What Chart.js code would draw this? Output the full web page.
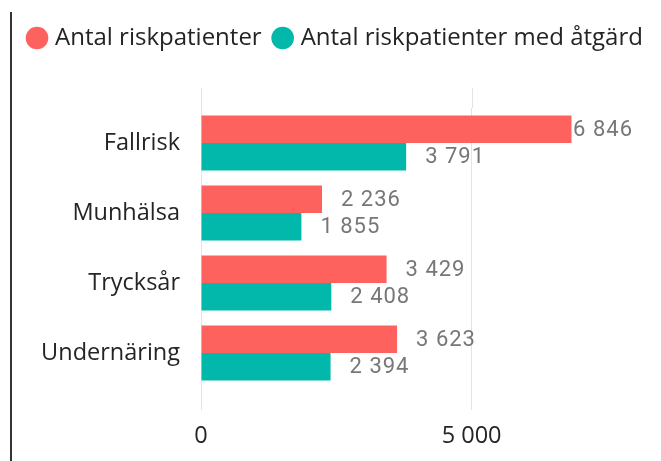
<!DOCTYPE html>
<html><head><meta charset="utf-8">
<script src="https://cdn.jsdelivr.net/npm/chart.js@4"></script>
<style>
html,body{margin:0;padding:0;background:#fff;}
#wrap{position:relative;width:661px;height:461px;overflow:hidden;}
#frame{position:absolute;left:10px;top:12px;width:2px;height:449px;background:#333333;}
canvas{position:absolute;left:0;top:0;}
</style></head><body>
<div id="wrap"><canvas id="c" width="661" height="461"></canvas><div id="frame"></div></div>
<script>
const categories = ['Fallrisk', 'Munhälsa', 'Trycksår', 'Undernäring'];
const seriesNames = ['Antal riskpatienter', 'Antal riskpatienter med åtgärd'];
const riskPatients = [6846, 2236, 3429, 3623];
const withAction = [3791, 1855, 2408, 2394];
const xTickValues = [0, 5000];
const axisMax = 8500;

const TEXT = '#252423';
const GRID = '#e4e4e4';
const LABEL_RIGHT_INSET = 28;
const fmt = v => String(v).replace(/\B(?=(\d{3})+(?!\d))/g, ' ');
const legendFont = {family: "'Open Sans', sans-serif", size: 24};
const axisFont = {family: "'Open Sans', sans-serif", size: 23.5};

const gridTop = {
  id: 'gridTop',
  beforeDatasetsDraw(chart) {
    const {ctx, chartArea, scales: {x}} = chart;
    ctx.save();
    ctx.strokeStyle = GRID;
    ctx.lineWidth = 1;
    x.ticks.forEach(t => {
      const px = Math.round(x.getPixelForValue(t.value)) + 0.5;
      ctx.beginPath();
      ctx.moveTo(px, chartArea.top - 20);
      ctx.lineTo(px, chartArea.top);
      ctx.stroke();
    });
    ctx.restore();
  }
};

const valueLabels = {
  id: 'valueLabels',
  afterDatasetsDraw(chart) {
    const {ctx, chartArea} = chart;
    ctx.save();
    ctx.font = "22px Roboto, sans-serif";
    try { ctx.letterSpacing = '1px'; } catch (e) {}
    ctx.fillStyle = '#777777';
    ctx.textBaseline = 'middle';
    ctx.textAlign = 'left';
    const limit = chartArea.right - LABEL_RIGHT_INSET;
    chart.data.datasets.forEach((ds, i) => {
      chart.getDatasetMeta(i).data.forEach((bar, j) => {
        const txt = fmt(ds.data[j]);
        const w = ctx.measureText(txt).width;
        const x = Math.min(bar.x + 19, limit - w);
        ctx.fillText(txt, x, bar.y + 1);
      });
    });
    ctx.restore();
  }
};

new Chart(document.getElementById('c'), {
  type: 'bar',
  data: {
    labels: categories,
    datasets: [
      {label: seriesNames[0], data: riskPatients, backgroundColor: '#FD625E'},
      {label: seriesNames[1], data: withAction, backgroundColor: '#01B8AA'}
    ]
  },
  options: {
    indexAxis: 'y',
    responsive: false,
    animation: false,
    categoryPercentage: 0.786,
    barPercentage: 1,
    layout: {padding: {left: 16, right: 0, top: 11, bottom: 10}},
    plugins: {
      tooltip: {enabled: false},
      legend: {
        position: 'top', align: 'start',
        labels: {usePointStyle: true, pointStyle: 'circle', boxWidth: 12, boxHeight: 16,
                 padding: 15, color: TEXT, font: legendFont}
      },
      subtitle: {display: true, text: '', weight: 500, font: {size: 10}, padding: {top: 0, bottom: 36}}
    },
    scales: {
      x: {
        type: 'linear', position: 'bottom', min: 0, max: axisMax,
        afterBuildTicks: s => { s.ticks = xTickValues.map(v => ({value: v})); },
        afterFit: s => { s.height = 63; },
        ticks: {callback: v => fmt(v), color: TEXT, font: axisFont, padding: 12, maxRotation: 0, autoSkip: false},
        grid: {color: GRID, drawTicks: true, tickLength: 22, tickColor: GRID},
        border: {display: false}
      },
      y: {
        type: 'category',
        afterFit: s => { s.width = 185; },
        ticks: {color: TEXT, font: axisFont, padding: 21},
        grid: {display: false, drawTicks: false},
        border: {display: false}
      }
    }
  },
  plugins: [gridTop, valueLabels]
});
</script>
</body></html>
